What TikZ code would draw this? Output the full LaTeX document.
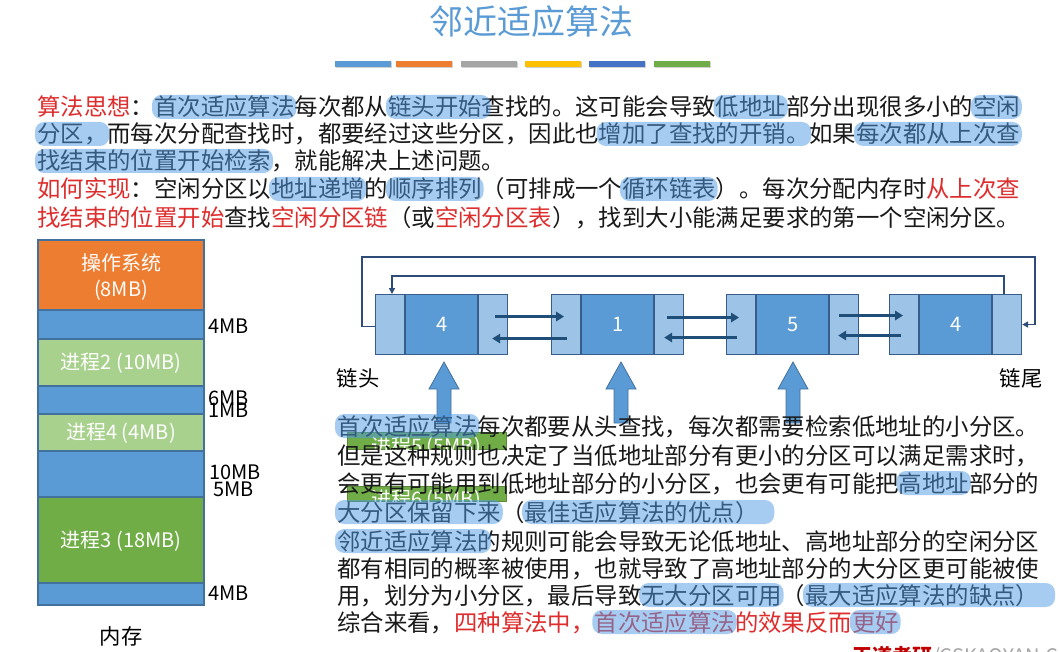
\documentclass[tikz,border=0pt]{standalone}
\usepackage{fontspec}
\setmainfont{Noto Sans CJK SC}
\usetikzlibrary{arrows.meta}

\definecolor{titleblue}{RGB}{91,155,213}
\definecolor{txtred}{RGB}{222,45,45}
\definecolor{txtblack}{RGB}{25,25,25}
\definecolor{hlblue}{RGB}{80,155,230}
\definecolor{osorange}{RGB}{237,125,49}
\definecolor{freeblue}{RGB}{91,155,213}
\definecolor{procgreen}{RGB}{169,209,142}
\definecolor{bigproc}{RGB}{112,173,71}
\definecolor{memborder}{RGB}{65,113,156}
\definecolor{sidefill}{RGB}{157,195,230}
\definecolor{midfill}{RGB}{91,155,213}
\definecolor{boxborder}{RGB}{56,93,138}
\definecolor{linkdark}{RGB}{31,78,121}
\definecolor{loopdark}{RGB}{47,75,120}
\definecolor{barblue}{RGB}{91,155,213}
\definecolor{barorange}{RGB}{237,125,49}
\definecolor{bargray}{RGB}{165,165,165}
\definecolor{baryellow}{RGB}{255,192,0}
\definecolor{bardark}{RGB}{68,114,196}
\definecolor{bargreen}{RGB}{112,173,71}
\definecolor{brandred}{RGB}{192,0,0}

% width of one full-width character, in px
\newcommand\charw{23.4}
% translucent marker stroke over characters #3..#4 of a line starting at (#1,#2)
\newcommand\hlmark[4]{%
  \fill[hlstroke] ({#1+#3*\charw-2},{#2-12}) rectangle ({#1+(#4+1)*\charw+2},{#2+12});}
% upward block arrow centred on x=#1
\newcommand\blockup[1]{%
  \draw[blockarrow] (#1,362) -- ({#1+15},389) -- ({#1+7},389) -- ({#1+7},423)
    -- ({#1-7},423) -- ({#1-7},389) -- ({#1-15},389) -- cycle;}

\begin{document}
\begin{tikzpicture}[x=0.75pt,y=-0.75pt,
  bodytext/.style={anchor=base west, inner sep=0, text=txtblack,
    font=\fontsize{17.55pt}{20pt}\selectfont},
  hlstroke/.style={fill=hlblue, fill opacity=0.5, rounded corners=7pt},
  memseg/.style={draw=memborder, line width=0.8pt},
  memtext/.style={text=white, font=\fontsize{15pt}{18pt}\selectfont, inner sep=0},
  sizelabel/.style={anchor=west, inner sep=0, text=black, font=\fontsize{15pt}{18pt}\selectfont},
  sidebox/.style={draw=boxborder, fill=sidefill, line width=0.8pt, minimum width=21.75pt,
    minimum height=45pt, inner sep=0, anchor=north west},
  midbox/.style={draw=boxborder, fill=midfill, line width=0.8pt, minimum width=54pt,
    minimum height=45pt, inner sep=0, anchor=north west, text=white,
    font=\fontsize{15pt}{18pt}\selectfont},
  link/.style={draw=linkdark, line width=2.2pt, -{Triangle[length=6pt,width=7pt]}},
  loopline/.style={draw=loopdark, line width=1.1pt},
  blockarrow/.style={fill=freeblue, draw=memborder, line width=0.6pt},
  gbox/.style={fill=bigproc, draw=bigproc!80!black, line width=0.5pt},
  plain/.style={inner sep=0, text=black, font=\fontsize{16pt}{18pt}\selectfont}]

\useasboundingbox (0,0) rectangle (1059,652);
\fill[white] (0,0) rectangle (1059,652);

% ---- heading and colour strip ----
\node[text=titleblue, font=\fontsize{25.5pt}{28pt}\selectfont] (title) at (531,22) {邻近适应算法};
\foreach \xa/\col in {335/barblue,396/barorange,461/bargray,525/baryellow,589/bardark,654/bargreen}{
  \fill[black!18] ({\xa+1},62.5) rectangle ({\xa+57},68.5);
  \fill[\col] (\xa,61) rectangle ({\xa+56},67);
}

% ---- upper paragraph ----
\node[bodytext] (p1) at (37,116) {\textcolor{txtred}{算法思想}：首次适应算法每次都从链头开始查找的。这可能会导致低地址部分出现很多小的空闲};
\node[bodytext] (p2) at (37,143) {分区，而每次分配查找时，都要经过这些分区，因此也增加了查找的开销。如果每次都从上次查};
\node[bodytext] (p3) at (37,170) {找结束的位置开始检索，就能解决上述问题。};
\node[bodytext] (p4) at (37,198) {\textcolor{txtred}{如何实现}：空闲分区以地址递增的顺序排列（可排成一个循环链表）。每次分配内存时\textcolor{txtred}{从上次查}};
\node[bodytext] (p5) at (37,227) {\textcolor{txtred}{找结束的位置开始}查找\textcolor{txtred}{空闲分区链}（或\textcolor{txtred}{空闲分区表}），找到大小能满足要求的第一个空闲分区。};

\hlmark{37}{107}{5}{10}
\hlmark{37}{107}{15}{18.3}
\hlmark{37}{107}{29}{31}
\hlmark{37}{107}{40}{41}
\hlmark{37}{134}{0}{2}
\hlmark{37}{134}{24}{32}
\hlmark{37}{134}{35}{41}
\hlmark{37}{161}{0}{9}
\hlmark{37}{189}{10}{13}
\hlmark{37}{189}{15}{18}
\hlmark{37}{189}{25}{28}

% ---- memory map ----
\draw[memseg, fill=osorange]  (38,240) rectangle (204,310);
\draw[memseg, fill=freeblue]  (38,310) rectangle (204,339);
\draw[memseg, fill=procgreen] (38,339) rectangle (204,386);
\draw[memseg, fill=freeblue]  (38,386) rectangle (204,414);
\draw[memseg, fill=procgreen] (38,414) rectangle (204,451);
\draw[memseg, fill=freeblue]  (38,451) rectangle (204,497);
\draw[memseg, fill=bigproc]   (38,497) rectangle (204,583);
\draw[memseg, fill=freeblue]  (38,583) rectangle (204,605);
\node[memtext] (os1) at (121,263) {操作系统};
\node[memtext] (os2) at (121,290) {(8MB)};
\node[memtext] (pr2) at (121,363) {进程2 (10MB)};
\node[memtext] (pr4) at (121,433) {进程4 (4MB)};
\node[memtext] (pr3) at (121,541) {进程3 (18MB)};
\node[sizelabel] (s1) at (208,326) {4MB};
\node[sizelabel] (s2) at (208,398) {6MB};
\node[sizelabel] (s3) at (208,410) {1MB};
\node[sizelabel] (s4) at (209,472) {10MB};
\node[sizelabel] (s5) at (213,489) {5MB};
\node[sizelabel] (s6) at (208,593) {4MB};
\node[plain] (mem) at (121,636) {内存};

% ---- free-partition chain ----
\foreach \n/\xa/\val in {1/375/4,2/551/1,3/726/5,4/889/4}{
  \node[sidebox] (n\n l) at (\xa,294) {};
  \node[midbox]  (n\n m) at (n\n l.north east) {\val};
  \node[sidebox] (n\n r) at (n\n m.north east) {};
}
\draw[link] ([shift={(2,-8)}]n1r.center) -- ([shift={(-2,-8)}]n2l.center);
\draw[link] ([shift={(1,14)}]n2l.center) -- ([shift={(-1,14)}]n1r.center);
\draw[link] ([shift={(-2,-7)}]n2r.center) -- ([shift={(-2,-7)}]n3l.center);
\draw[link] ([shift={(-4,13)}]n3l.center) -- ([shift={(-5,13)}]n2r.center);
\draw[link] ([shift={(-5,-9)}]n3r.center) -- ([shift={(-1,-9)}]n4l.center);
\draw[link] ([shift={(-3,11)}]n4l.center) -- ([shift={(-6,11)}]n3r.center);

\coordinate (outerL) at (362,257);
\coordinate (outerR) at (1035,257);
\coordinate (innerR) at (1004,276);
\coordinate (innerL) at (392,276);
\draw[loopline, -{Triangle[length=4.5pt,width=4.5pt]}]
  ([yshift=-1.5pt]n1l.west) -| (outerL) -- (outerR) |- (n4r.east);
\draw[loopline, -{Triangle[length=4.5pt,width=4.5pt]}]
  (innerR |- n4r.north) -- (innerR) -- (innerL) -- (innerL |- n1l.north);

\node[plain] (head) at (358,378) {链头};
\node[plain] (tail) at (1021,378) {链尾};

\blockup{444}
\blockup{621}
\blockup{793}

% ---- leftover partition blocks ----
\fill[gbox] (347,432) rectangle (506,449);
\fill[gbox] (347,486) rectangle (506,501);
\begin{scope}
  \clip (347,432) rectangle (506,449);
  \node[memtext] (pr5) at (426,447) {进程5 (5MB)};
\end{scope}
\begin{scope}
  \clip (347,486) rectangle (506,501);
  \node[memtext] (pr6) at (426,500) {进程6 (5MB)};
\end{scope}

% ---- lower paragraph ----
\node[bodytext] (q1) at (337,435) {首次适应算法每次都要从头查找，每次都需要检索低地址的小分区。};
\node[bodytext] (q2) at (337,464) {但是这种规则也决定了当低地址部分有更小的分区可以满足需求时，};
\node[bodytext] (q3) at (337,492) {会更有可能用到低地址部分的小分区，也会更有可能把高地址部分的};
\node[bodytext] (q4) at (337,521) {大分区保留下来（最佳适应算法的优点）};
\node[bodytext] (q5) at (337,550) {邻近适应算法的规则可能会导致无论低地址、高地址部分的空闲分区};
\node[bodytext] (q6) at (337,577) {都有相同的概率被使用，也就导致了高地址部分的大分区更可能被使};
\node[bodytext] (q7) at (337,604) {用，划分为小分区，最后导致无大分区可用（最大适应算法的缺点）};
\node[bodytext] (q8) at (337,631) {综合来看，\textcolor{txtred}{四种算法中，首次适应算法的效果反而更好}};

\hlmark{337}{426}{0}{5}
\hlmark{337}{483}{24}{26}
\hlmark{337}{512}{0}{6}
\hlmark{337}{512}{8}{17.6}
\hlmark{337}{541}{0}{5.5}
\hlmark{337}{595}{13}{18}
\hlmark{337}{595}{20}{29.6}
\hlmark{337}{622}{11}{16}
\hlmark{337}{622}{22}{23}

% ---- brand line at the lower edge ----
\begin{scope}
  \clip (0,0) rectangle (1059,652);
  \node[anchor=north west, inner sep=0, font=\fontsize{15pt}{18pt}\selectfont] (brand) at (852,646)
    {\textcolor{brandred}{\bfseries 王道考研}\textcolor{black!35}{/CSKAOYAN.COM}};
\end{scope}
\end{tikzpicture}
\end{document}
